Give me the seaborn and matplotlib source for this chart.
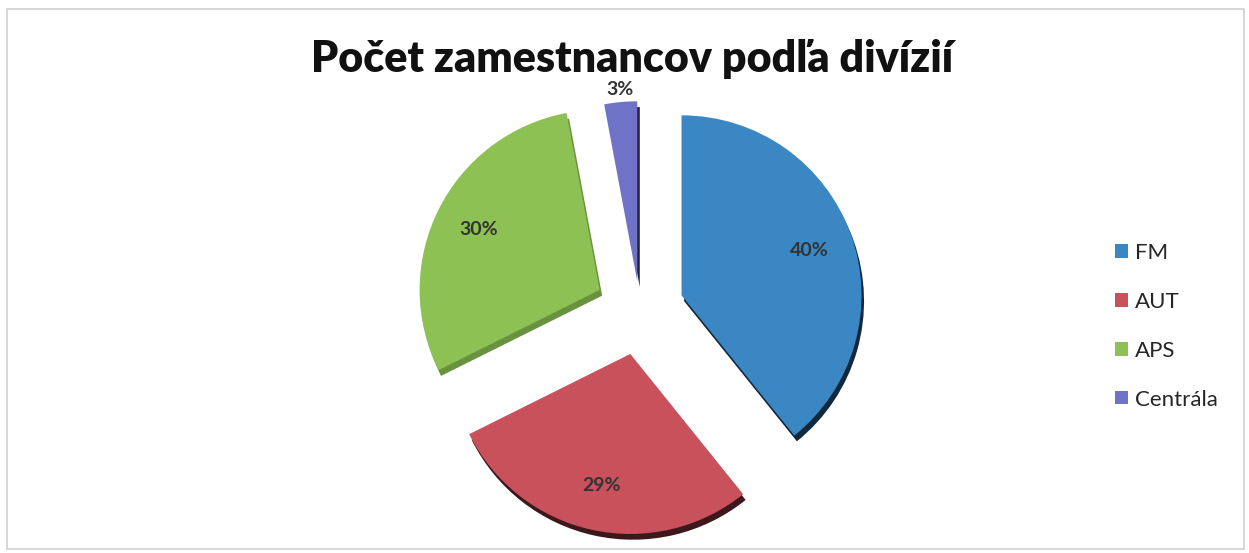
import matplotlib
matplotlib.use("Agg")
import matplotlib.pyplot as plt
import matplotlib.colors as mcolors
from matplotlib.patches import Patch, Rectangle
import seaborn as sns
import numpy as np

# data
divisions = ["FM", "AUT", "APS", "Centrála"]
shares = [40, 29, 30, 3]
share_labels = ["40%", "29%", "30%", "3%"]
colors = ["#3B87C4", "#C9515C", "#8DC153", "#6F73C8"]
explode = [0.245, 0.25, 0.25, 0.16]

sns.set_theme(style="white")
plt.rcParams['font.family'] = ['Lato', 'DejaVu Sans']

fig = plt.figure(figsize=(12.49, 5.53), dpi=100)
fig.patch.set_facecolor("white")

# light chart frame
fig.patches.append(Rectangle((0.006, 0.008), 0.99, 0.975, transform=fig.transFigure,
                             fill=False, edgecolor="#d0d0d0", linewidth=1.2))

ax = fig.add_axes([0.325, 0.0163, 0.3747, 0.8463])

# darker copy underneath for the 3D edge
dark = [tuple(np.array(mcolors.to_rgb(c)) * f) for c, f in zip(colors, [0.3, 0.3, 0.75, 0.3])]
ax.pie(shares, colors=dark, startangle=90, counterclock=False, explode=explode,
       center=(0.014, -0.032), wedgeprops=dict(linewidth=0))
wedges, _ = ax.pie(shares, colors=colors, startangle=90, counterclock=False,
                   explode=explode, wedgeprops=dict(linewidth=0))

for w, lab in zip(wedges, share_labels):
    mid = np.deg2rad((w.theta1 + w.theta2) / 2)
    cx, cy = w.center
    r = 1.07 if lab == "3%" else 0.75
    ax.text(cx + r * np.cos(mid), cy + r * np.sin(mid), lab, ha="center", va="center",
            fontsize=14, fontweight="bold", color="#333333")

ax.set_xlim(-1.3, 1.3)
ax.set_ylim(-1.3, 1.3)
ax.set_aspect("equal")
ax.axis("off")

fig.text(0.506, 0.893, "Počet zamestnancov podľa divízií", ha="center", va="center",
         fontsize=31, fontweight="heavy", color="#111111")

handles = [Patch(facecolor=c, edgecolor="none") for c in colors]
fig.legend(handles, divisions, loc="center left", bbox_to_anchor=(0.877, 0.41),
           frameon=False, fontsize=16, handlelength=0.55, handleheight=0.55,
           handletextpad=0.35, labelspacing=1.3)

fig.savefig("out.png", dpi=100)
